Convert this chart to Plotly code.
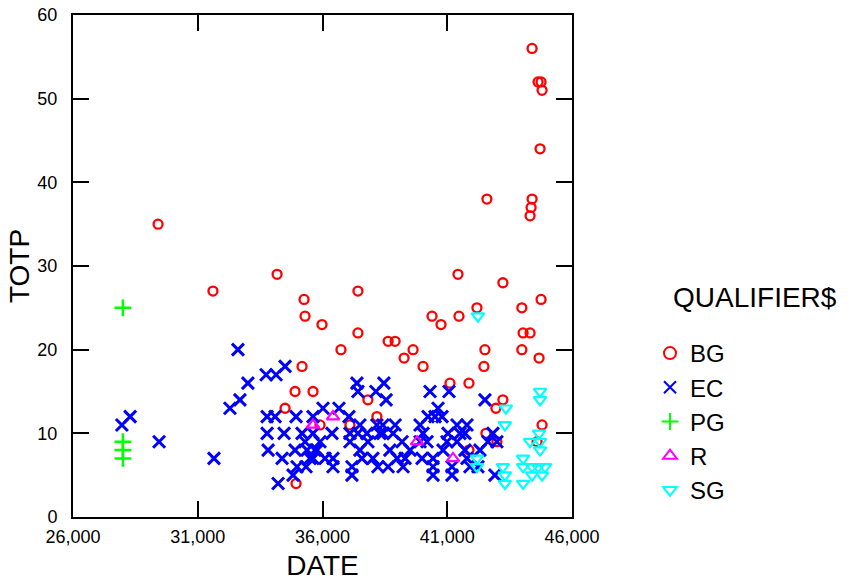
import plotly.graph_objects as go

# ---- data ----
bg_date = [29410, 31610, 34180, 34500, 34900, 34940, 35180, 35260, 35300, 35620,
           35900, 35980, 36740, 37100, 37420, 37420, 37820, 38180, 38630, 38910,
           39270, 39630, 40030, 40390, 40750, 41110, 41430, 41470, 41870, 41870,
           42190, 42550, 42510, 42470, 42590, 42950, 43230, 43230, 43990, 43990,
           44040, 44320, 44320, 44360, 44400, 44400, 44600, 44640, 44760, 44800,
           44720, 44680, 44760, 44800, 42990]
bg_totp = [35, 27, 29, 13, 15, 4, 18, 26, 24, 15,
           11, 23, 20, 11, 27, 22, 14, 12, 21, 21,
           19, 20, 18, 24, 23, 16, 29, 24, 16, 8,
           25, 10, 20, 18, 38, 13, 14, 28, 25, 20,
           22, 22, 36, 37, 38, 56, 9, 52, 52, 51,
           44, 19, 26, 11, 9]

ec_date = [27960, 28290, 29450, 31650, 32610, 32290, 32690, 33010, 33740, 34140,
           34500, 33780, 34100, 34940, 35620, 36020, 36660, 33780, 34460, 35180,
           35900, 33820, 34380, 34900, 35380, 35780, 35500, 36100, 36420, 34980,
           35340, 34820, 34220, 35620, 36380, 37100, 37420, 37780, 38300, 38420,
           38830, 40030, 41030, 41510, 41710, 35300, 37100, 37820, 39190, 39910,
           40190, 40990, 41390, 35700, 37500, 38700, 39510, 40830, 41710, 35620,
           36420, 37580, 38020, 38990, 39310, 39990, 40430, 41790, 37180, 38220,
           38630, 39230, 40430, 41190, 41910, 42230, 37180, 40430, 41190, 42910,
           37380, 38460, 37420, 38140, 38550, 40310, 41070, 42510, 40510, 40790,
           40230, 40630, 37060, 37500, 38180, 38420, 38910, 39910, 41390, 41790,
           42830, 42630, 42990, 42310]
ec_totp = [11, 12, 9, 7, 20, 13, 14, 16, 17, 17,
           18, 12, 12, 12, 12, 13, 13, 10, 10, 10,
           9, 8, 7, 8, 8, 8, 7, 7, 6, 6,
           6, 5, 4, 10, 10, 10, 10, 10, 10, 10,
           10, 10, 10, 10, 10, 9, 9, 9, 9, 9,
           9, 9, 9, 8, 8, 8, 8, 8, 8, 7,
           7, 7, 7, 7, 7, 7, 7, 7, 6, 6,
           6, 6, 6, 6, 6, 6, 5, 5, 5, 5,
           16, 16, 15, 15, 14, 15, 15, 14, 12, 12,
           12, 13, 12, 11, 11, 11, 11, 11, 11, 11,
           10, 9, 9, 8]

pg_date = [28000, 28000, 28000, 28000]
pg_totp = [25, 9, 8, 7]

r_date = [35620, 36420, 39790, 41230]
r_totp = [11, 12, 9, 7]

sg_date = [42230, 43350, 43310, 44720, 44720, 44680, 44320, 44720, 44720, 42190,
           42190, 43230, 43310, 43310, 44040, 44040, 44040, 44400, 44640, 44920,
           44400, 44800]
sg_totp = [24, 13, 11, 15, 14, 10, 9, 9, 8, 7,
           6, 6, 5, 4, 7, 6, 4, 6, 6, 6,
           5, 5]

x_ticks = [26000, 31000, 36000, 41000, 46000]
x_tick_text = ["26,000", "31,000", "36,000", "41,000", "46,000"]
y_ticks = [0, 10, 20, 30, 40, 50, 60]

# ---- figure ----
fig = go.Figure()

fig.add_trace(go.Scatter(
    x=bg_date, y=bg_totp, mode="markers", name="BG",
    marker=dict(symbol="circle-open", size=9, color="#FF0000",
                line=dict(width=2.3, color="#FF0000"))))
fig.add_trace(go.Scatter(
    x=ec_date, y=ec_totp, mode="markers", name="EC",
    marker=dict(symbol="x-thin-open", size=12, color="#0000FF",
                line=dict(width=3, color="#0000FF"))))
fig.add_trace(go.Scatter(
    x=pg_date, y=pg_totp, mode="markers", name="PG",
    marker=dict(symbol="cross-thin-open", size=12, color="#00FF00",
                line=dict(width=2.5, color="#00FF00"))))
fig.add_trace(go.Scatter(
    x=r_date, y=r_totp, mode="markers", name="R",
    marker=dict(symbol="triangle-up-open", size=11, color="#FF00FF",
                line=dict(width=2.2, color="#FF00FF"))))
fig.add_trace(go.Scatter(
    x=sg_date, y=sg_totp, mode="markers", name="SG",
    marker=dict(symbol="triangle-down-open", size=11, color="#00FFFF",
                line=dict(width=2.2, color="#00FFFF"))))

tick_font = dict(family="Liberation Sans, Arial, sans-serif", size=18, color="black")
title_font = dict(family="Liberation Sans, Arial, sans-serif", size=28, color="black")

fig.update_xaxes(
    range=[26000, 46000], tickvals=x_ticks, ticktext=x_tick_text,
    ticks="inside", ticklen=16, tickwidth=2, tickcolor="black",
    showline=True, linewidth=2, linecolor="black", mirror="ticks",
    showgrid=False, zeroline=False, tickfont=tick_font,
    ticklabelstandoff=2, automargin=False,
    title=dict(text="DATE", font=title_font, standoff=11),
)
fig.update_yaxes(
    range=[0, 60], tickvals=y_ticks,
    ticks="inside", ticklen=16, tickwidth=2, tickcolor="black",
    showline=True, linewidth=2, linecolor="black", mirror="ticks",
    showgrid=False, zeroline=False, tickfont=tick_font,
    ticklabelstandoff=10, automargin=False,
    title=dict(text="TOTP", font=title_font, standoff=0),
)

fig.add_annotation(
    text="QUALIFIER$", xref="paper", yref="paper",
    x=(671 - 73) / (572 - 73), y=(517 - 297) / (517 - 15),
    xanchor="left", yanchor="middle", showarrow=False,
    font=dict(family="Liberation Sans, Arial, sans-serif", size=28, color="black"),
)

fig.update_layout(
    width=851, height=581,
    margin=dict(l=73, r=279, t=15, b=64, autoexpand=False),
    plot_bgcolor="white", paper_bgcolor="white",
    legend=dict(
        x=(650 - 73) / (572 - 73), y=(517 - 331) / (517 - 15),
        xanchor="left", yanchor="top",
        font=dict(family="Liberation Sans, Arial, sans-serif", size=24, color="black"),
        itemsizing="constant", bgcolor="rgba(0,0,0,0)",
    ),
)

fig.write_html("out.html")
